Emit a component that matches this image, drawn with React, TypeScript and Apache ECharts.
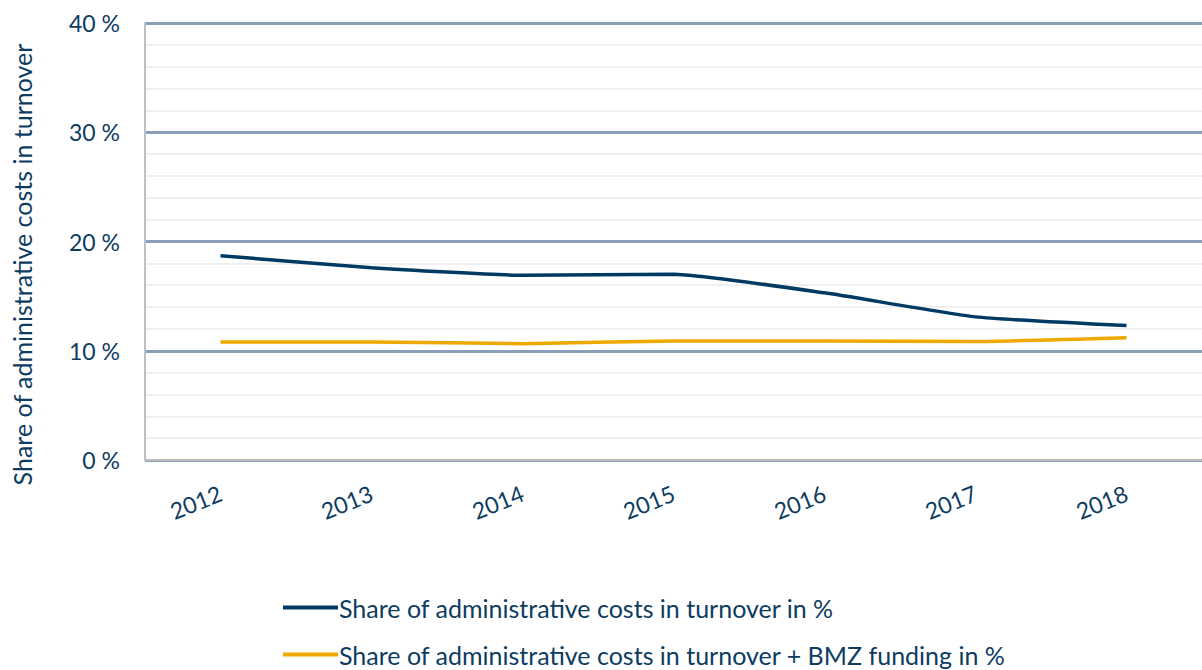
import React, { useEffect, useRef } from "react";
import * as echarts from "echarts";

const years = ["2012", "2013", "2014", "2015", "2016", "2017", "2018"];
const adminShare = [18.7, 17.6, 16.9, 17.0, 15.3, 13.1, 12.3];
const adminShareBmz = [10.8, 10.8, 10.65, 10.9, 10.9, 10.85, 11.2];
const seriesNames = [
  "Share of administrative costs in turnover in %",
  "Share of administrative costs in turnover + BMZ funding in %",
];
const yAxisTitle = "Share of administrative costs in turnover";

const textColor = "#0d3c61";
const font = "Lato, 'Open Sans', sans-serif";

export default function App() {
  const ref = useRef<HTMLDivElement>(null);
  useEffect(() => {
    if (!ref.current) return;
    const chart = echarts.init(ref.current, null, { renderer: "svg" });
    const legendBase = {
      orient: "horizontal",
      left: 278,
      itemWidth: 55,
      itemHeight: 4,
      icon: "rect",
      textStyle: { fontSize: 25, color: textColor, fontFamily: font, padding: [0, 0, 0, -4] },
    };
    chart.setOption({
      animation: false,
      textStyle: { fontFamily: font },
      grid: { left: 145, top: 23, width: 1067, height: 437 },
      legend: [
        { ...legendBase, top: 590, data: [seriesNames[0]] },
        { ...legendBase, top: 637, data: [seriesNames[1]] },
      ],
      xAxis: {
        type: "category",
        data: years,
        boundaryGap: true,
        axisLine: { show: true, lineStyle: { color: "#bfbfbf", width: 2 } },
        axisTick: { show: false },
        axisLabel: {
          rotate: 22,
          fontSize: 23,
          color: textColor,
          margin: 32,
          fontFamily: font,
        },
        splitLine: { show: false },
      },
      yAxis: {
        type: "value",
        min: 0,
        max: 40,
        interval: 10,
        name: yAxisTitle,
        nameLocation: "middle",
        nameGap: 111,
        nameTextStyle: { fontSize: 25, color: textColor, fontFamily: font, padding: [0, 46, 0, 0] },
        axisLine: { show: true, lineStyle: { color: "#bfbfbf", width: 2 } },
        axisTick: { show: false },
        axisLabel: {
          formatter: "{value} %",
          fontSize: 23,
          color: textColor,
          margin: 25,
          fontFamily: font,
        },
        splitLine: { show: true, lineStyle: { color: "#8aa0ba", width: 3 } },
        minorTick: { show: false, splitNumber: 5 },
        minorSplitLine: { show: true, lineStyle: { color: "#efefef", width: 2 } },
      },
      series: [
        {
          name: seriesNames[0],
          type: "line",
          data: adminShare,
          smooth: 0.15,
          symbol: "none",
          lineStyle: { color: "#003a63", width: 3.5 },
          itemStyle: { color: "#003a63" },
          z: 3,
        },
        {
          name: seriesNames[1],
          type: "line",
          data: adminShareBmz,
          smooth: 0.15,
          symbol: "none",
          lineStyle: { color: "#eea800", width: 3.5 },
          itemStyle: { color: "#eea800" },
          z: 3,
        },
      ],
    });
    return () => chart.dispose();
  }, []);
  return <div ref={ref} style={{ width: 1202, height: 670, position: "absolute", left: 0, top: 0 }} />;
}
